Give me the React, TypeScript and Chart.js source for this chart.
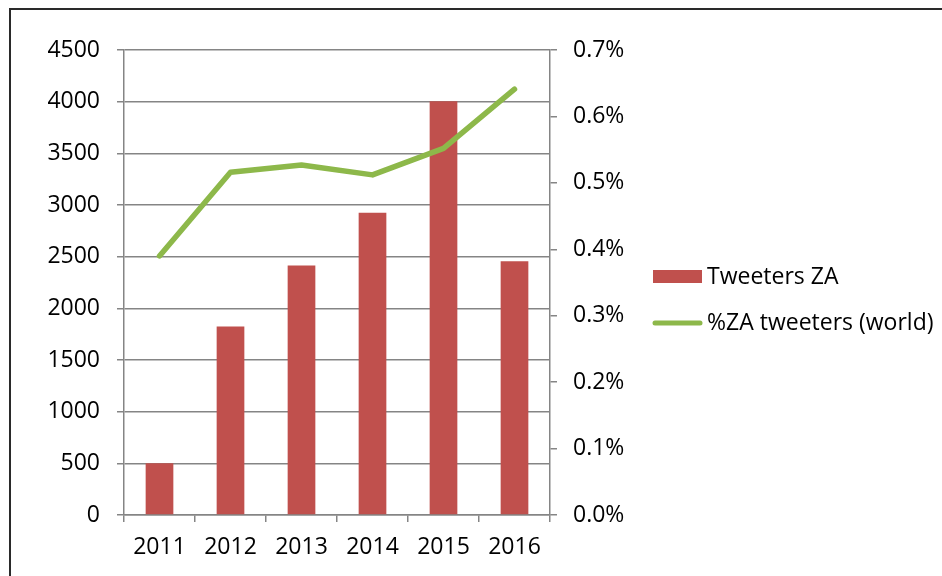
import React, { useEffect, useRef } from "react";
import { Chart, registerables } from "chart.js";

Chart.register(...registerables);

// ---- Data ----
const years = ["2011", "2012", "2013", "2014", "2015", "2016"];
const tweetersZA = [500, 1825, 2415, 2925, 4005, 2455];
const pctZAWorld = [0.39, 0.516, 0.527, 0.512, 0.552, 0.641];
const seriesLabels = ["Tweeters ZA", "%ZA tweeters (world)"];
const leftAxis = { min: 0, max: 4500, step: 500 };
const rightAxis = { min: 0, max: 0.7, step: 0.1 };

const FONT = "'Open Sans', 'DejaVu Sans', sans-serif";
const FONT_SIZE = 23;
const BAR_COLOR = "#C0504D";
const LINE_COLOR = "#8DB84A";
const GRID_COLOR = "#858585";
const GRID_W = 1.5;

const framePlugin = {
  id: "frame",
  beforeDraw(chart: any) {
    const ctx = chart.ctx;
    ctx.save();
    ctx.fillStyle = "#ffffff";
    ctx.fillRect(0, 0, chart.width, chart.height);
    ctx.fillStyle = "#2a2a2a";
    ctx.fillRect(9, 8, chart.width - 9, 2);
    ctx.fillRect(9, 8, 2, chart.height - 8);
    ctx.restore();
  },
};

const legendPlugin = {
  id: "customLegend",
  afterDraw(chart: any) {
    const ctx = chart.ctx;
    const ds = chart.data.datasets;
    ctx.save();
    ctx.font = `${FONT_SIZE}px ${FONT}`;
    ctx.textBaseline = "middle";
    ctx.textAlign = "left";
    // bar item
    ctx.fillStyle = ds[0].backgroundColor;
    ctx.fillRect(653, 270, 49, 13);
    ctx.fillStyle = "#000";
    ctx.fillText(ds[0].label, 707, 277);
    // line item
    ctx.strokeStyle = ds[1].borderColor;
    ctx.lineWidth = 5;
    ctx.lineCap = "round";
    ctx.beginPath();
    ctx.moveTo(655, 323);
    ctx.lineTo(700, 323);
    ctx.stroke();
    ctx.fillStyle = "#000";
    ctx.fillText(ds[1].label, 707, 323);
    ctx.restore();
  },
};

export default function App() {
  const ref = useRef<HTMLCanvasElement | null>(null);

  useEffect(() => {
    if (!ref.current) return;
    const tickFont = { family: FONT, size: FONT_SIZE };
    const chart = new Chart(ref.current, {
      type: "bar",
      data: {
        labels: years,
        datasets: [
          {
            type: "bar",
            label: seriesLabels[0],
            data: tweetersZA,
            backgroundColor: BAR_COLOR,
            yAxisID: "y",
            order: 1,
            categoryPercentage: 1,
            barPercentage: 0.39,
          } as any,
          {
            type: "line",
            label: seriesLabels[1],
            data: pctZAWorld,
            borderColor: LINE_COLOR,
            backgroundColor: LINE_COLOR,
            borderWidth: 5.5,
            borderCapStyle: "round",
            borderJoinStyle: "round",
            pointRadius: 0,
            tension: 0,
            yAxisID: "y1",
            order: 0,
          } as any,
        ],
      },
      options: {
        responsive: false,
        animation: false,
        layout: { padding: { top: 50, left: 0, right: 0, bottom: 0 } },
        plugins: {
          legend: { display: false },
          tooltip: { enabled: false },
        },
        scales: {
          x: {
            grid: {
              display: true,
              drawOnChartArea: false,
              offset: true,
              tickLength: 7,
              color: GRID_COLOR,
              lineWidth: GRID_W,
            },
            border: { display: true, color: GRID_COLOR, width: GRID_W },
            ticks: { font: tickFont, color: "#000", padding: 12, maxRotation: 0 },
            afterFit: (s: any) => {
              s.height = 61;
            },
          },
          y: {
            position: "left",
            min: leftAxis.min,
            max: leftAxis.max,
            ticks: {
              stepSize: leftAxis.step,
              font: tickFont,
              color: "#000",
              padding: 17,
              callback: (v: any) => String(Math.round(Number(v))),
            },
            grid: { color: GRID_COLOR, lineWidth: GRID_W, tickLength: 7 },
            border: { display: true, color: GRID_COLOR, width: GRID_W },
            afterFit: (s: any) => {
              s.width = 124;
            },
          },
          y1: {
            position: "right",
            min: rightAxis.min,
            max: rightAxis.max,
            ticks: {
              stepSize: rightAxis.step,
              font: tickFont,
              color: "#000",
              padding: 16,
              callback: (v: any) => Number(v).toFixed(1) + "%",
            },
            grid: {
              drawOnChartArea: false,
              tickLength: 7,
              color: GRID_COLOR,
              lineWidth: GRID_W,
            },
            border: { display: true, color: GRID_COLOR, width: GRID_W },
            afterFit: (s: any) => {
              s.width = 392;
            },
          },
        },
      } as any,
      plugins: [framePlugin, legendPlugin],
    });
    return () => chart.destroy();
  }, []);

  return (
    <div style={{ position: "absolute", left: 0, top: 0, width: 942, height: 576 }}>
      <canvas ref={ref} width={942} height={576} style={{ width: 942, height: 576 }} />
    </div>
  );
}
